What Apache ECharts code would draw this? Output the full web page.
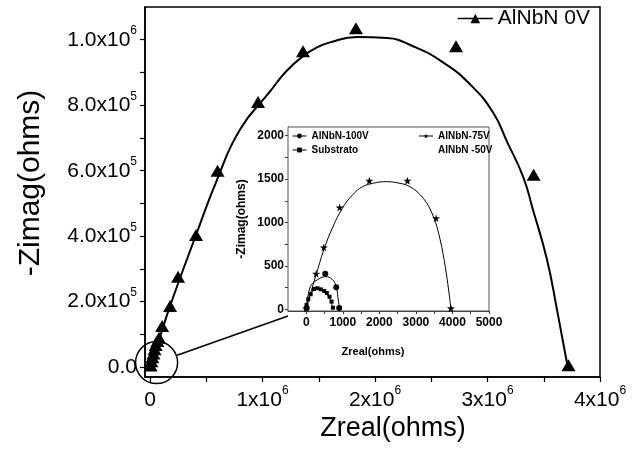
<!DOCTYPE html>
<html>
<head>
<meta charset="utf-8">
<script src="https://cdn.jsdelivr.net/npm/echarts@6/dist/echarts.min.js"></script>
<style>html,body{margin:0;padding:0;background:#fff;}#c{width:636px;height:471px;}</style>
</head>
<body>
<div id="c"></div>
<script>
// ---- Main plot data (ohms) ----
var zeroV_points = [[5000,5000],[12000,18000],[20000,30000],[30000,42000],[40000,55000],[50000,68000],[65000,80000],[80000,90000],[107000,126000],[178000,187000],[249000,276000],[409000,404000],[600000,600000],[960000,810000],[1360000,965000],[1830000,1035000],[2720000,980000],[3410000,588000],[3720000,6000]];
var zeroV_fit = [[0,0],[80000,83000],[178000,187000],[409000,404000],[596000,573000],[800000,726000],[1067000,842000],[1209000,903000],[1360000,950000],[1476000,975000],[1600000,992000],[1840000,1008000],[2107000,1005000],[2338000,980000],[2604000,931000],[2844000,864000],[3049000,778000],[3173000,689000],[3316000,582000],[3404000,481000],[3529000,328000],[3618000,175000],[3707000,12000]];
var mainXTicks = [0,1000000,2000000,3000000,4000000];
var mainXMinor = [0,500000,1000000,1500000,2000000,2500000,3000000,3500000,4000000];
var mainYTicks = [0,200000,400000,600000,800000,1000000];
var mainYMinor = [0,100000,200000,300000,400000,500000,600000,700000,800000,900000,1000000];

// ---- Inset data (ohms) ----
var v100_points = [[10,15],[520,410],[820,255],[900,15]];
var v100_fit = [[0,0],[110,260],[295,337],[525,376],[710,345],[820,260],[875,107],[913,0]];
var sub_points = [[8,50],[55,115],[120,173],[212,234],[303,242],[396,230],[489,211],[562,188],[636,145],[692,88],[729,18]];
var sub_fit = [[0,0],[40,100],[100,165],[180,210],[280,228],[380,225],[480,205],[560,175],[630,130],[690,70],[725,0]];
var v75_points = [[0,10],[270,410],[480,712],[913,1173],[1725,1481],[2768,1481],[3552,1050],[3958,12]];
var v75_fit = [[0,0],[64,107],[267,395],[479,683],[710,933],[987,1163],[1264,1317],[1541,1413],[1910,1459],[2187,1470],[2464,1459],[2834,1413],[3203,1278],[3480,1067],[3665,798],[3803,491],[3895,222],[3960,0]];
var v50_points = [];
var insetXTicks = [0,1000,2000,3000,4000,5000];
var insetXMinor = [0,500,1000,1500,2000,2500,3000,3500,4000,4500,5000];
var insetYTicks = [0,500,1000,1500,2000];
var insetYMinor = [0,250,500,750,1000,1250,1500,1750,2000];

var FONT = 'Liberation Sans';
var STAR = 'path://M50,0 L61,35 L98,35 L68,57 L79,91 L50,70 L21,91 L32,57 L2,35 L39,35 Z';

function sciLabel(v) {
  if (v === 0) return '{a|0}';
  var e = Math.floor(Math.log10(v) + 1e-9);
  var m = v / Math.pow(10, e);
  return '{a|' + m + 'x10}{s|' + e + '}';
}
function sciLabelY(v) {
  if (v === 0) return '{a|0.0}';
  var e = Math.floor(Math.log10(v) + 1e-9);
  var m = v / Math.pow(10, e);
  return '{a|' + m.toFixed(1) + 'x10}{s|' + e + '}';
}
function plain(v) { return String(v); }
var richMain = {
  a: {fontFamily: FONT, fontSize: 21, color: '#000', lineHeight: 30},
  s: {fontFamily: FONT, fontSize: 12, color: '#000', lineHeight: 10, verticalAlign: 'top'}
};

var chart = echarts.init(document.getElementById('c'), null, {renderer: 'canvas'});
var option = {
  backgroundColor: '#fff',
  animation: false,
  textStyle: {fontFamily: FONT},
  grid: [
    {left: 145, top: 7, right: 36, bottom: 94, show: true, borderColor: '#000', borderWidth: 1.5},
    {left: 288, top: 127, right: 147, bottom: 160, show: true, borderColor: '#555', borderWidth: 1, backgroundColor: '#fff', z: 5}
  ],
  legend: [
    {
      data: [{name: 'AlNbN 0V', lineStyle: {opacity: 1, width: 1.5, color: '#000'}}],
      right: 41, top: 3, itemWidth: 35, itemHeight: 12,
      textStyle: {fontFamily: FONT, fontSize: 21, color: '#000'},
      selectedMode: false
    },
    {
      data: [{name: 'AlNbN-100V', lineStyle: {opacity: 1, width: 1, color: '#000'}}, {name: 'Substrato', lineStyle: {opacity: 1, width: 1, color: '#000'}}],
      orient: 'vertical', left: 287, top: 126, itemWidth: 14, itemHeight: 6, itemGap: 4,
      textStyle: {fontFamily: FONT, fontSize: 10, fontWeight: 'bold', color: '#000'},
      selectedMode: false, z: 10
    },
    {
      data: [{name: 'AlNbN-75V', lineStyle: {opacity: 1, width: 1, color: '#000'}}, {name: 'AlNbN -50V', itemStyle: {opacity: 0}, lineStyle: {opacity: 0}}],
      orient: 'vertical', left: 413, top: 126, itemWidth: 14, itemHeight: 6, itemGap: 4,
      textStyle: {fontFamily: FONT, fontSize: 10, fontWeight: 'bold', color: '#000'},
      selectedMode: false, z: 10
    }
  ],
  xAxis: [
    {
      type: 'value', gridIndex: 0, min: -45000, max: 4000000,
      name: 'Zreal(ohms)', nameLocation: 'middle', nameGap: 30,
      nameTextStyle: {fontFamily: FONT, fontSize: 27, color: '#000', padding: [0, 0, 0, 41]},
      axisLine: {onZero: false, lineStyle: {color: '#000', width: 1.5}},
      axisTick: {show: true, length: 5, lineStyle: {color: '#000', width: 1.2}, customValues: mainXMinor},
      axisLabel: {customValues: mainXTicks, margin: 8, formatter: sciLabel, rich: richMain},
      splitLine: {show: false}
    },
    {
      type: 'value', gridIndex: 1, min: -500, max: 5000,
      name: 'Zreal(ohms)', nameLocation: 'middle', nameGap: 35,
      nameTextStyle: {fontFamily: FONT, fontSize: 11, fontWeight: 'bold', color: '#000', padding: [0, 31, 0, 0]},
      axisLine: {onZero: false, lineStyle: {color: '#333', width: 1}},
      axisTick: {show: true, length: 3, lineStyle: {color: '#333', width: 1}, customValues: insetXMinor},
      axisLabel: {customValues: insetXTicks, margin: 6, formatter: plain, fontFamily: FONT, fontSize: 12, fontWeight: 'bold', color: '#000'},
      splitLine: {show: false}
    }
  ],
  yAxis: [
    {
      type: 'value', gridIndex: 0, min: -30000, max: 1100000,
      name: '-Zimag(ohms)', nameLocation: 'middle', nameGap: 99,
      nameTextStyle: {fontFamily: FONT, fontSize: 30, color: '#000', padding: [0, 0, 0, 18]},
      axisLine: {onZero: false, lineStyle: {color: '#000', width: 1.5}},
      axisTick: {show: true, length: 5, lineStyle: {color: '#000', width: 1.2}, customValues: mainYMinor},
      axisLabel: {customValues: mainYTicks, margin: 8, formatter: sciLabelY, rich: richMain},
      splitLine: {show: false}
    },
    {
      type: 'value', gridIndex: 1, min: -20, max: 2100,
      name: '-Zimag(ohms)', nameLocation: 'middle', nameGap: 40,
      nameTextStyle: {fontFamily: FONT, fontSize: 12, fontWeight: 'bold', color: '#000'},
      axisLine: {onZero: false, lineStyle: {color: '#333', width: 1}},
      axisTick: {show: true, length: 3, lineStyle: {color: '#333', width: 1}, customValues: insetYMinor},
      axisLabel: {customValues: insetYTicks, margin: 4, formatter: plain, fontFamily: FONT, fontSize: 12, fontWeight: 'bold', color: '#000'},
      splitLine: {show: false}
    }
  ],
  series: [
    {name: 'fit0', type: 'line', xAxisIndex: 0, yAxisIndex: 0, data: zeroV_fit, smooth: 0.5, showSymbol: false, symbol: 'none',
     lineStyle: {color: '#000', width: 2}, z: 2},
    {name: 'AlNbN 0V', type: 'line', xAxisIndex: 0, yAxisIndex: 0, data: zeroV_points, symbol: 'triangle', symbolSize: [14, 12],
     itemStyle: {color: '#000'}, lineStyle: {opacity: 0, color: '#000'}, z: 3},
    {name: 'fit100', type: 'line', xAxisIndex: 1, yAxisIndex: 1, data: v100_fit, smooth: 0.4, symbol: 'none',
     lineStyle: {color: '#000', width: 1}, z: 11},
    {name: 'AlNbN-100V', type: 'line', xAxisIndex: 1, yAxisIndex: 1, data: v100_points, symbol: 'circle', symbolSize: 6,
     itemStyle: {color: '#000'}, lineStyle: {opacity: 0, color: '#000'}, z: 12},
    {name: 'fitsub', type: 'line', xAxisIndex: 1, yAxisIndex: 1, data: sub_fit, smooth: 0.4, symbol: 'none',
     lineStyle: {color: '#000', width: 1}, z: 11},
    {name: 'Substrato', type: 'line', xAxisIndex: 1, yAxisIndex: 1, data: sub_points, symbol: 'rect', symbolSize: 4,
     itemStyle: {color: '#000'}, lineStyle: {opacity: 0, color: '#000'}, z: 12},
    {name: 'fit75', type: 'line', xAxisIndex: 1, yAxisIndex: 1, data: v75_fit, smooth: 0.4, symbol: 'none',
     lineStyle: {color: '#000', width: 1}, z: 11},
    {name: 'AlNbN-75V', type: 'line', xAxisIndex: 1, yAxisIndex: 1, data: v75_points, symbol: STAR, symbolSize: 8,
     itemStyle: {color: '#000'}, lineStyle: {opacity: 0, color: '#000'}, z: 12},
    {name: 'AlNbN -50V', type: 'line', xAxisIndex: 1, yAxisIndex: 1, data: v50_points, symbol: 'circle', symbolSize: 2,
     itemStyle: {color: '#888'}, lineStyle: {opacity: 0}, z: 12}
  ]
};
chart.setOption(option);

// Zoom annotation: circle around origin and connector to inset
var circleCenter = [58000, 14000];
var insetAnchor = [-500, -77];
var c = chart.convertToPixel({gridIndex: 0}, circleCenter);
var e = chart.convertToPixel({gridIndex: 1}, insetAnchor);
var r = 21;
var dx = e[0] - c[0], dy = e[1] - c[1], d = Math.sqrt(dx * dx + dy * dy);
var s = [c[0] + r * dx / d, c[1] + r * dy / d];
chart.setOption({
  graphic: [
    {type: 'circle', shape: {cx: c[0], cy: c[1], r: r}, style: {fill: 'none', stroke: '#000', lineWidth: 1.5}, z: 20},
    {type: 'line', shape: {x1: s[0], y1: s[1], x2: e[0], y2: e[1]}, style: {stroke: '#000', lineWidth: 1.5}, z: 20}
  ]
});
</script>
</body>
</html>
